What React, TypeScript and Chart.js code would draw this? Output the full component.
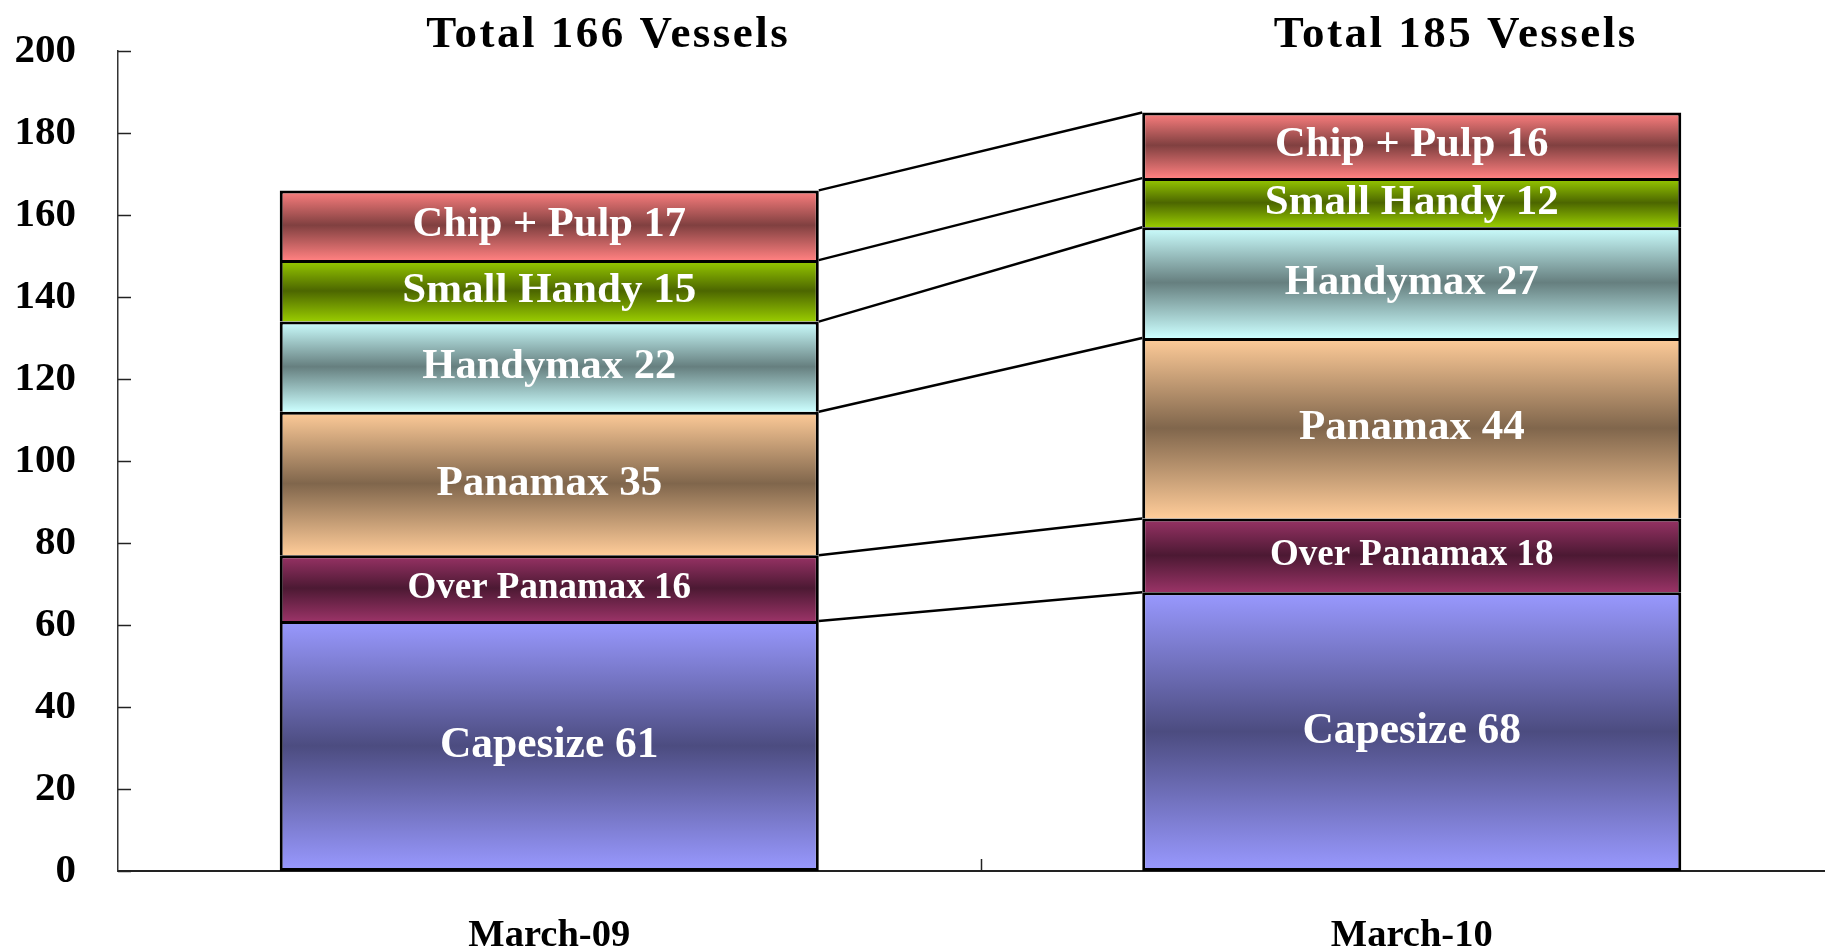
import React, { useEffect, useRef } from 'react';
import { Chart, registerables } from 'chart.js';

Chart.register(...registerables);

// ---------- data ----------
const categories = ['March-09', 'March-10'];
const seriesNames = ['Capesize', 'Over Panamax', 'Panamax', 'Handymax', 'Small Handy', 'Chip + Pulp'];
const capesize = [61, 68];
const overPanamax = [16, 18];
const panamax = [35, 44];
const handymax = [22, 27];
const smallHandy = [15, 12];
const chipPulp = [17, 16];
const totals = [166, 185];
const yTickValues = [0, 20, 40, 60, 80, 100, 120, 140, 160, 180, 200];

const seriesValues = [capesize, overPanamax, panamax, handymax, smallHandy, chipPulp];

// ---------- styles ----------
const lightColors = ['#9999FF', '#993366', '#FFCC99', '#CCFFFF', '#99CC00', '#FF8080'];
const darkColors = ['#4C4C80', '#4C1933', '#80664C', '#667F7F', '#4C6600', '#804040'];
const labelFontSizes = [43.5, 37, 43, 42.5, 43, 42.5];
const FONT = '"Liberation Serif", "Times New Roman", serif';
const titleOffsets = [59, 44];

const W = 1843;
const H = 946;

function gradientFor(ctx: any, fallbackIndex: number) {
  const chart = ctx.chart;
  const ds = ctx.datasetIndex;
  const j = ctx.dataIndex;
  const yScale = chart.scales?.y;
  if (!chart.chartArea || !yScale || j === undefined) return lightColors[fallbackIndex];
  let start = 0;
  for (let k = 0; k < ds; k++) start += seriesValues[k][j];
  const end = start + seriesValues[ds][j];
  const y0 = yScale.getPixelForValue(end);
  const y1 = yScale.getPixelForValue(start);
  const g = chart.ctx.createLinearGradient(0, y0, 0, y1);
  g.addColorStop(0, lightColors[ds]);
  g.addColorStop(0.5, darkColors[ds]);
  g.addColorStop(1, lightColors[ds]);
  return g;
}

const overlayPlugin = {
  id: 'overlay',
  afterDatasetsDraw(chart: any) {
    const ctx = chart.ctx;
    const metas = seriesValues.map((_, i) => chart.getDatasetMeta(i));
    ctx.save();
    // series lines
    ctx.strokeStyle = '#000';
    ctx.lineWidth = 2.5;
    metas.forEach((m: any) => {
      const a = m.data[0];
      const b = m.data[1];
      ctx.beginPath();
      ctx.moveTo(a.x + a.width / 2, a.y);
      ctx.lineTo(b.x - b.width / 2, b.y);
      ctx.stroke();
    });
    // segment labels
    ctx.fillStyle = '#FFFFFF';
    ctx.textAlign = 'center';
    ctx.textBaseline = 'middle';
    metas.forEach((m: any, i: number) => {
      m.data.forEach((el: any, j: number) => {
        ctx.font = `bold ${labelFontSizes[i]}px ${FONT}`;
        ctx.fillText(`${seriesNames[i]} ${seriesValues[i][j]}`, el.x, (el.y + el.base) / 2);
      });
    });
    // totals titles
    ctx.fillStyle = '#000';
    ctx.textBaseline = 'alphabetic';
    ctx.font = `bold 45px ${FONT}`;
    try { (ctx as any).letterSpacing = '2.5px'; } catch (e) { /* ignore */ }
    const top = metas[metas.length - 1];
    top.data.forEach((el: any, j: number) => {
      ctx.fillText(`Total ${totals[j]} Vessels`, el.x + titleOffsets[j], 47);
    });
    try { (ctx as any).letterSpacing = '0px'; } catch (e) { /* ignore */ }
    // inward tick marks
    const ys = chart.scales.y;
    const xs = chart.scales.x;
    ctx.strokeStyle = '#222';
    ctx.lineWidth = 1.5;
    yTickValues.forEach((v) => {
      const py = Math.round(ys.getPixelForValue(v)) + 0.5;
      ctx.beginPath();
      ctx.moveTo(ys.right, py);
      ctx.lineTo(ys.right + 13, py);
      ctx.stroke();
    });
    [0.5].forEach((v) => {
      const px = Math.round(xs.getPixelForValue(v)) + 0.5;
      ctx.beginPath();
      ctx.moveTo(px, xs.top);
      ctx.lineTo(px, xs.top - 12);
      ctx.stroke();
    });
    ctx.restore();
  },
};

export default function App() {
  const ref = useRef<HTMLCanvasElement | null>(null);
  useEffect(() => {
    if (!ref.current) return;
    const datasets = seriesValues.map((vals, i) => ({
      label: seriesNames[i],
      data: vals,
      backgroundColor: (c: any) => gradientFor(c, i),
      borderColor: '#000000',
      borderWidth: i === 0 ? { top: 3, left: 3, right: 3, bottom: 3 } : { top: 3, left: 3, right: 3, bottom: 0 },
      borderSkipped: false as const,
      categoryPercentage: 1,
      barPercentage: 0.625,
    }));
    const chart = new Chart(ref.current, {
      type: 'bar',
      data: { labels: categories, datasets },
      options: {
        responsive: false,
        animation: false,
        devicePixelRatio: 1,
        layout: { padding: { top: 51, left: 0, right: 0, bottom: 0 } },
        plugins: { legend: { display: false }, tooltip: { enabled: false }, title: { display: false } },
        scales: {
          x: {
            stacked: true,
            grid: { display: false },
            border: { display: true, color: '#222', width: 2 },
            ticks: {
              color: '#000',
              padding: 34,
              font: { family: FONT, size: 38.5, weight: 'bold' },
            },
            afterFit: (s: any) => {
              s.height = 75;
              s.paddingLeft = 0;
              s.paddingRight = 0;
            },
          },
          y: {
            stacked: true,
            min: 0,
            max: 200,
            grid: { display: false },
            border: { display: true, color: '#333', width: 1.5 },
            ticks: {
              stepSize: 20,
              color: '#000',
              padding: 34,
              font: { family: FONT, size: 41, weight: 'bold' },
            },
            afterFit: (s: any) => {
              s.width = 118;
              s.paddingTop = 0;
              s.paddingBottom = 0;
            },
          },
        },
      },
      plugins: [overlayPlugin],
    });
    return () => chart.destroy();
  }, []);
  return (
    <div style={{ position: 'fixed', left: 0, top: 0, width: 1825, height: 946, overflow: 'hidden', background: '#fff' }}>
      <canvas ref={ref} width={W} height={H} style={{ display: 'block', width: W, height: H }} />
    </div>
  );
}
